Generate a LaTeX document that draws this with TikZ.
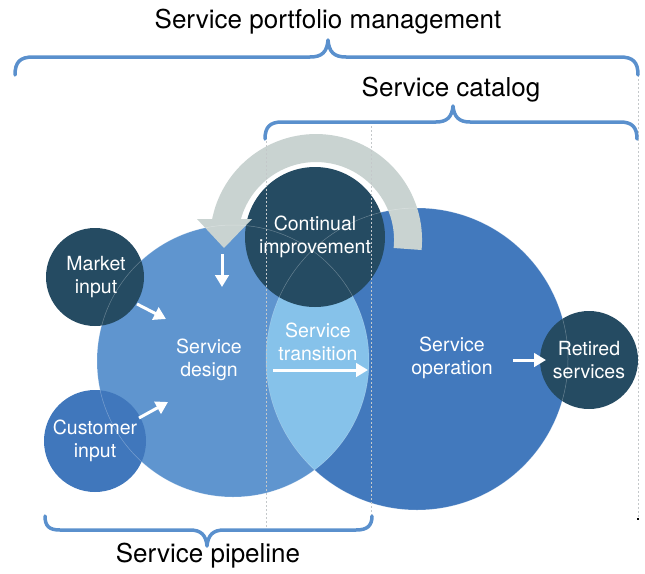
\documentclass[tikz,border=0pt]{standalone}
\usepackage{fontspec}
\setmainfont{TeX Gyre Heros}
\usetikzlibrary{arrows.meta}
\definecolor{designc}{HTML}{5F95CF}
\definecolor{operc}{HTML}{4279BD}
\definecolor{lensc}{HTML}{86C2EA}
\definecolor{darkc}{HTML}{254B62}
\definecolor{custc}{HTML}{4077BC}
\definecolor{bracec}{HTML}{5A90CD}
\definecolor{grayarrow}{HTML}{C9D3D1}
\definecolor{dashc}{HTML}{C4C8CA}
\tikzset{
  bubble/.style={circle, inner sep=0pt, draw=none},
  lbl/.style={text=white, align=center, font=\fontsize{19.5}{22.5}\selectfont, inner sep=0pt},
  head/.style={text=black, font=\fontsize{26}{30}\selectfont, inner sep=0pt},
  brace/.style={draw=bracec, line width=3.5pt, line cap=round, line join=round},
  whitearrow/.style={draw=white, line width=3pt, -{Triangle[length=12pt,width=13.5pt]}},
  guide/.style={draw=dashc, line width=0.8pt, dash pattern=on 2pt off 2pt},
  faint/.style={draw=white, draw opacity=0.3, line width=0.5pt}
}
\begin{document}
\begin{tikzpicture}[x=1pt,y=-1pt]
\useasboundingbox (0,0) rectangle (645,573);
% big circles
\node[bubble, fill=designc, minimum size=272pt] (design) at (233,361) {};
\node[bubble, fill=operc, minimum size=302pt] (oper) at (417,359) {};
\begin{scope}
  \clip (233,361) circle[radius=136];
  \fill[lensc] (417,359) circle[radius=151];
\end{scope}
% small circles
\node[bubble, fill=darkc, minimum size=98pt] (market) at (95,277) {};
\node[bubble, fill=custc, minimum size=102pt] (customer) at (95,441) {};
\node[bubble, fill=darkc, minimum size=98pt] (retired) at (589,360) {};
\node[bubble, fill=darkc, minimum size=140pt] (improve) at (315,237) {};
% gray feedback arrow
\draw[grayarrow, line width=28pt] (407.6,249) arc[start angle=5.6, end angle=-170, radius=92];
\fill[grayarrow] (197,219) -- (252,219) -- (224,248) -- cycle;
% faint outlines
\draw[faint] (233,361) circle[radius=136];
\draw[faint] (417,359) circle[radius=151];
% labels
\node[lbl] (tmarket) at (96,277) {Market\\input};
\node[lbl] (tcust) at (95,441) {Customer\\input};
\node[lbl] (tdesign) at (209,360) {Service\\design};
\node[lbl] (timprove) at (315,237) {Continual\\improvement};
\node[lbl] (ttrans) at (318,342) {Service\\transition};
\node[lbl] (toper) at (452,358) {Service\\operation};
\node[lbl] (tretired) at (589,360) {Retired\\services};
% white arrows
\coordinate (a1s) at (222,254); \coordinate (a1e) at (222,287);
\coordinate (a2s) at (137,304); \coordinate (a2e) at (166,319);
\coordinate (a3s) at (139,418); \coordinate (a3e) at (168,402);
\coordinate (a4s) at (273,370); \coordinate (a4e) at (368,370);
\coordinate (a5s) at (513,360); \coordinate (a5e) at (546,360);
\draw[whitearrow] (a1s) -- (a1e);
\draw[whitearrow] (a2s) -- (a2e);
\draw[whitearrow] (a3s) -- (a3e);
\draw[whitearrow] (a4s) -- (a4e);
\draw[whitearrow] (a5s) -- (a5e);
% dashed guides
\coordinate (g1t) at (266,137); \coordinate (g1b) at (266,530);
\coordinate (g2t) at (371,122); \coordinate (g2b) at (371,516);
\coordinate (g3t) at (638,75); \coordinate (g3b) at (638,519);
\draw[guide] (g1t) -- (g1b);
\draw[guide] (g2t) -- (g2b);
\draw[guide] (g3t) -- (g3b);
\fill[black] (636.5,518) rectangle (638.5,520);
% braces
\draw[brace] (15,75) .. controls (15,62) and (20,57) .. (33,57) -- (310,57)
  .. controls (322,57) and (327,52) .. (328,40)
  .. controls (329,52) and (334,57) .. (346,57) -- (620,57)
  .. controls (633,57) and (638,62) .. (638,75);
\draw[brace] (265,139) .. controls (265,127) and (270,122) .. (282,122) -- (436,122)
  .. controls (447,122) and (452,117) .. (453,106)
  .. controls (454,117) and (459,122) .. (470,122) -- (620,122)
  .. controls (632,122) and (637,127) .. (637,139);
\draw[brace] (45,516) .. controls (45,526) and (49,530) .. (60,530) -- (190,530)
  .. controls (201,530) and (206,535) .. (207,546)
  .. controls (208,535) and (213,530) .. (224,530) -- (356,530)
  .. controls (367,530) and (372,526) .. (372,516);
% headings
\node[head] (tportfolio) at (328,22) {Service portfolio management};
\node[head] (tcatalog) at (451,90) {Service catalog};
\node[head] (tpipeline) at (208,556) {Service pipeline};
\end{tikzpicture}
\end{document}
